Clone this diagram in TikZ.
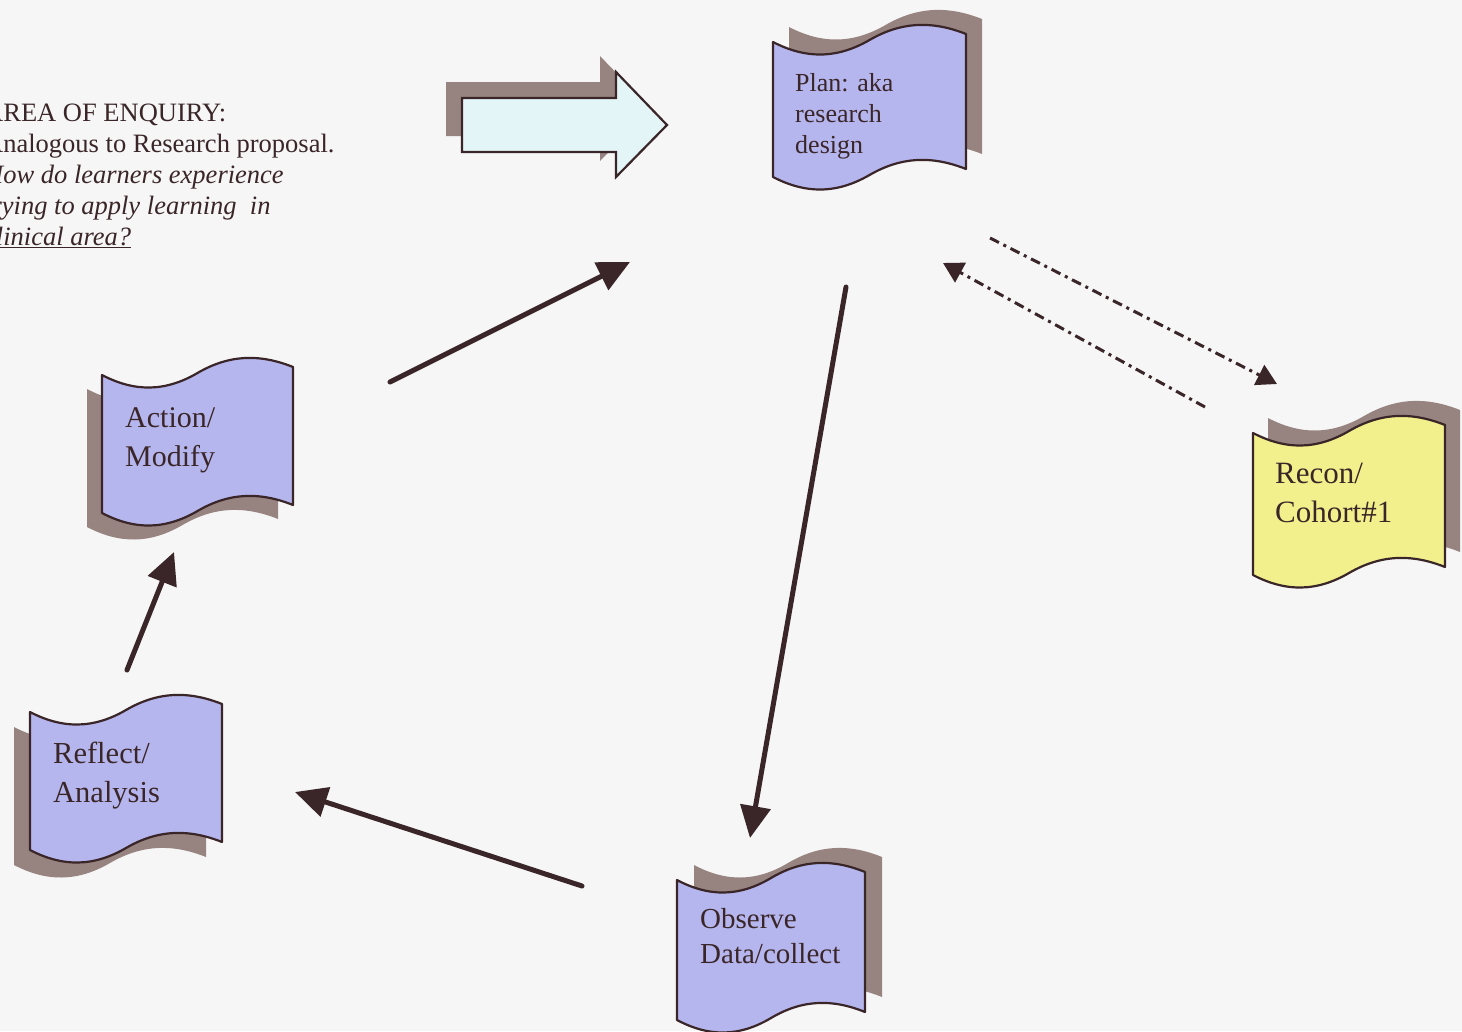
\documentclass[tikz,border=0pt]{standalone}
\usepackage{fontspec}
\setmainfont{Liberation Serif}
\usetikzlibrary{arrows.meta}

\definecolor{paper}{HTML}{F6F6F6}
\definecolor{ink}{HTML}{3A2628}
\definecolor{lav}{HTML}{B6B6EE}
\definecolor{lemon}{HTML}{F2F08C}
\definecolor{dropc}{HTML}{978480}
\definecolor{ice}{HTML}{E4F5F7}

% One wavy "tape" outline: #1 path options, #2 left x, #3 top-left y, #4 width, #5 height
\newcommand\wavedo[5]{%
  \path[#1] (#2,#3)
    .. controls ({#2+0.17*#4},{#3+17}) and ({#2+0.33*#4},{#3+17}) .. ({#2+0.5*#4},{#3-2})
    .. controls ({#2+0.67*#4},{#3-21}) and ({#2+0.83*#4},{#3-21}) .. ({#2+#4},{#3-8})
    -- ({#2+#4},{#3+#5-8})
    .. controls ({#2+0.83*#4},{#3+#5-21}) and ({#2+0.67*#4},{#3+#5-21}) .. ({#2+0.5*#4},{#3+#5-2})
    .. controls ({#2+0.33*#4},{#3+#5+17}) and ({#2+0.17*#4},{#3+#5+17}) .. (#2,{#3+#5})
    -- cycle;}

% Tape with its drop shadow: #1 x, #2 y, #3 w, #4 h, #5 fill, #6 shadow x, #7 shadow y
\newcommand\waveflag[7]{%
  \wavedo{fill=dropc}{#6}{#7}{#3}{#4}%
  \wavedo{fill=#5,draw=ink,line width=2.2pt,line join=round}{#1}{#2}{#3}{#4}}

\tikzset{
  flagtext/.style={anchor=base west, align=left, inner sep=0pt, text=ink},
  solidlink/.style={draw=ink, line width=5pt, line cap=round,
    -{Triangle[length=32pt,width=30pt]}},
  dashlink/.style={draw=ink, line width=3pt,
    dash pattern=on 10pt off 5pt on 3pt off 5pt,
    -{Triangle[length=20pt,width=22pt]}},
}

\begin{document}
\begin{tikzpicture}[x=1pt,y=-1pt]
  \useasboundingbox (0,0) rectangle (1462,1031);
  \clip (0,0) rectangle (1462,1031);
  \fill[paper] (0,0) rectangle (1462,1031);

  % area of enquiry text (anchored on the baseline of its last line)
  \node[flagtext, font=\fontsize{26.5}{31}\selectfont] (area) at (-16,245)
    {AREA OF ENQUIRY:\\
     Analogous to Research proposal.\\
     \itshape How do learners experience\\
     \itshape trying to apply learning\ \ in\\
     \itshape \underline{clinical area?}};

  % hollow block arrow with shadow
  \fill[dropc] (446,82) -- (600,82) -- (600,56) -- (651,109) -- (600,161)
    -- (600,136) -- (446,136) -- cycle;
  \filldraw[fill=ice, draw=ink, line width=2.2pt, line join=miter]
    (462,98) -- (616,98) -- (616,72) -- (667,125) -- (616,177)
    -- (616,152) -- (462,152) -- cycle;

  % tapes
  \waveflag{773}{42}{193}{135}{lav}{789}{27}
  \node[flagtext, font=\fontsize{26}{31}\selectfont] (plan) at (795,153)
    {Plan: aka\\research\\design};

  \waveflag{102}{375}{191}{138}{lav}{87}{389}
  \node[flagtext, font=\fontsize{30}{39}\selectfont] (action) at (125,466)
    {Action/\\Modify};

  \waveflag{30}{712}{192}{138}{lav}{14}{727}
  \node[flagtext, font=\fontsize{30.5}{39}\selectfont] (reflect) at (53,802)
    {Reflect/\\Analysis};

  \waveflag{677}{880}{188}{140}{lav}{694}{865}
  \node[flagtext, font=\fontsize{29}{35}\selectfont] (observe) at (700,963)
    {Observe\\Data/collect};

  \waveflag{1253}{433}{192}{142}{lemon}{1268}{418}
  \node[flagtext, font=\fontsize{31}{39}\selectfont] (recon) at (1275,522)
    {Recon/\\Cohort\#1};

  % connector end points
  \coordinate (action-out)  at (390,382);
  \coordinate (plan-in)     at (630,262);
  \coordinate (plan-out)    at (846,287);
  \coordinate (observe-in)  at (750,838);
  \coordinate (observe-out) at (582,886);
  \coordinate (reflect-in)  at (295,792);
  \coordinate (reflect-out) at (127,670);
  \coordinate (action-in)   at (174,552);
  \coordinate (plan-send)   at (990,238);
  \coordinate (recon-in)    at (1277,384);
  \coordinate (recon-out)   at (1205,407);
  \coordinate (plan-back)   at (943,263);

  % cycle
  \draw[solidlink] (action-out)  -- (plan-in);
  \draw[solidlink] (plan-out)    -- (observe-in);
  \draw[solidlink] (observe-out) -- (reflect-in);
  \draw[solidlink] (reflect-out) -- (action-in);

  % exchange with the cohort
  \draw[dashlink] (plan-send) -- (recon-in);
  \draw[dashlink] (recon-out) -- (plan-back);
\end{tikzpicture}
\end{document}
